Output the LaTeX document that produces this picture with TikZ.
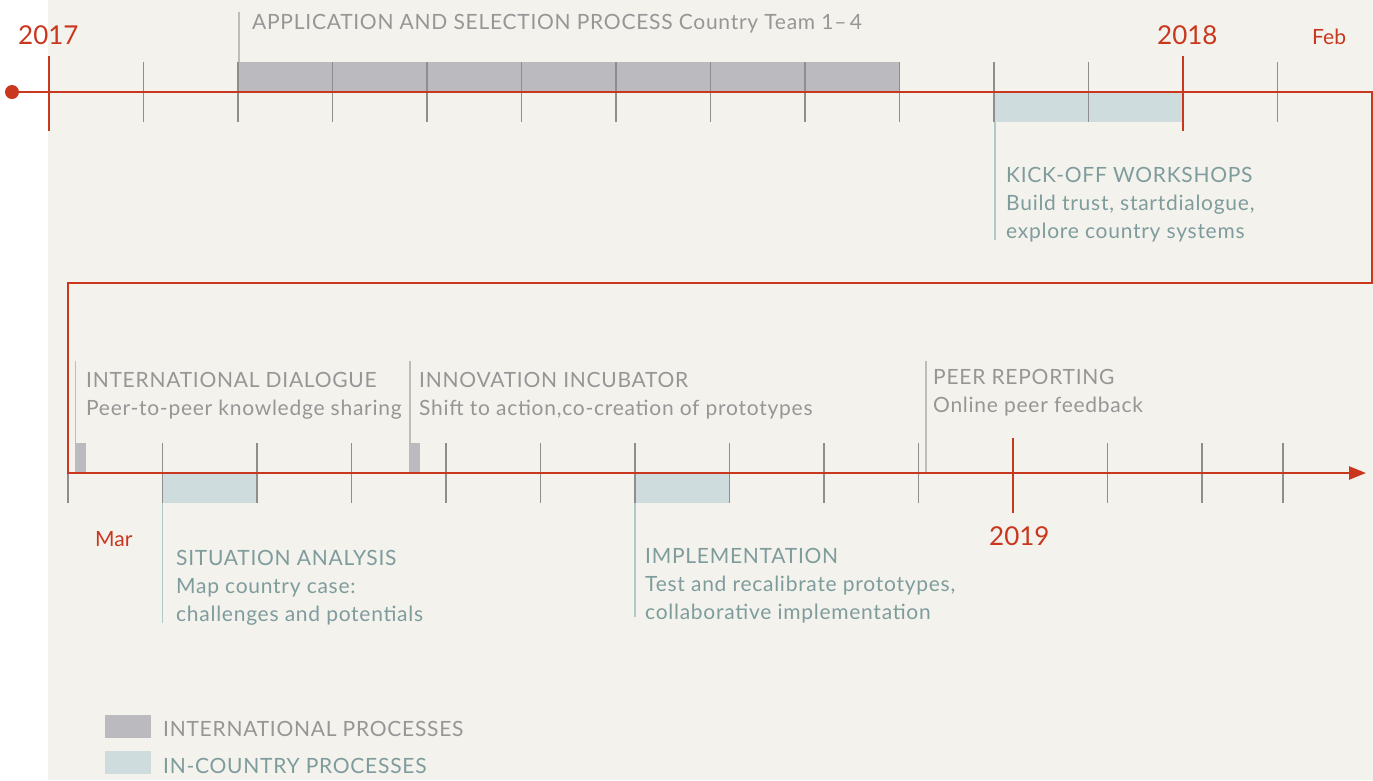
\documentclass[tikz,border=0pt]{standalone}
\usepackage{fontspec}
\setmainfont{Lato}
\newfontfamily\lblfont[LetterSpace=3.5]{Lato}
\usetikzlibrary{arrows.meta}
\definecolor{bg}{HTML}{F3F2ED}
\definecolor{tlred}{HTML}{C9381E}
\definecolor{tickgray}{HTML}{8E8E8E}
\definecolor{intbar}{HTML}{BBBBBF}
\definecolor{ctybar}{HTML}{CEDCDD}
\definecolor{graytext}{HTML}{969696}
\definecolor{tealtext}{HTML}{7F9C9D}
\definecolor{leadgray}{HTML}{BDBDBD}
\definecolor{leadteal}{HTML}{AFC8C9}
\begin{document}
\begin{tikzpicture}[x=1pt,y=-1pt,
  tk/.style={draw=tickgray, line width=1.5pt},
  redtk/.style={draw=tlred, line width=2.8pt},
  redline/.style={draw=tlred, line width=2.5pt, line join=miter},
  leadg/.style={draw=leadgray, line width=1.5pt},
  leadt/.style={draw=leadteal, line width=1.5pt},
  intb/.style={fill=intbar},
  ctyb/.style={fill=ctybar},
  lbl/.style={anchor=base west, inner sep=0pt, align=left, font=\lblfont\fontsize{21}{28}\selectfont},
  glbl/.style={lbl, text=graytext},
  tlbl/.style={lbl, text=tealtext},
  yr/.style={anchor=base west, inner sep=0pt, text=tlred, font=\fontsize{26}{30}\selectfont},
  mon/.style={anchor=base west, inner sep=0pt, text=tlred, font=\fontsize{21}{26}\selectfont}]
\useasboundingbox (0,0) rectangle (1373,780);
\fill[bg] (48,0) rectangle (1373,780);

% bars
\fill[intb] (239,62) rectangle (900,92);
\fill[ctyb] (995,92) rectangle (1183,122);
\fill[intb] (75,443) rectangle (86,473);
\fill[intb] (409,443) rectangle (420,473);
\fill[ctyb] (162,473) rectangle (257,503);
\fill[ctyb] (635,473) rectangle (729,503);

% leader lines
\coordinate (appT) at (239,12);   \coordinate (appB) at (239,62);
\coordinate (kickT) at (995,122); \coordinate (kickB) at (995,240);
\coordinate (intdT) at (75.5,361); \coordinate (intdB) at (75.5,443);
\coordinate (incT) at (410,361);  \coordinate (incB) at (410,443);
\coordinate (peerT) at (926,361); \coordinate (peerB) at (926,473);
\coordinate (sitT) at (162.5,503); \coordinate (sitB) at (162.5,623);
\coordinate (impT) at (635,503);  \coordinate (impB) at (635,617);
\draw[leadg] (appT) -- (appB);
\draw[leadg] (intdT) -- (intdB);
\draw[leadg] (incT) -- (incB);
\draw[leadg] (peerT) -- (peerB);
\draw[leadt] (kickT) -- (kickB);
\draw[leadt] (sitT) -- (sitB);
\draw[leadt] (impT) -- (impB);

% ticks top
\foreach \k in {1,...,11,13} {
  \draw[tk] ({49.2+94.5*\k},62) -- ({49.2+94.5*\k},122);
}
% ticks bottom
\foreach \x in {68,162.5,257,351.5,446,540.5,635,729.5,824,918.5,1107.5,1202,1283} {
  \draw[tk] (\x,443) -- (\x,503);
}

% main red timeline
\coordinate (start) at (12,92);
\coordinate (c1) at (1372,92);
\coordinate (c2) at (1372,283);
\coordinate (c3) at (68,283);
\coordinate (c4) at (68,473);
\coordinate (end) at (1366,473);
\draw[redline, -{Triangle[length=17pt,width=13pt]}] (start) -- (c1) -- (c2) -- (c3) -- (c4) -- (end);
\fill[tlred] (start) circle (7);

% year ticks
\draw[redtk] (49,56) -- (49,131);
\draw[redtk] (1183,56) -- (1183,131);
\draw[redtk] (1013,438) -- (1013,513);

% year / month labels
\node[yr] (y2017) at (18,44) {2017};
\node[yr] (y2018) at (1157,44) {2018};
\node[yr] (y2019) at (989,545) {2019};
\node[mon] (feb) at (1312,44) {Feb};
\node[mon] (mar) at (95,546) {Mar};

% process labels (base anchor = baseline of last line)
\node[glbl] (app) at (252,29) {APPLICATION AND SELECTION PROCESS Country Team 1–\,4};
\node[tlbl] (kick) at (1006,238) {KICK-OFF WORKSHOPS\\Build trust, startdialogue,\\explore country systems};
\node[glbl] (intd) at (86,415) {INTERNATIONAL DIALOGUE\\Peer-to-peer knowledge sharing};
\node[glbl] (inc) at (419,415) {INNOVATION INCUBATOR\\Shift to action,co-creation of prototypes};
\node[glbl] (peer) at (933,412) {PEER REPORTING\\Online peer feedback};
\node[tlbl] (sit) at (176,621) {SITUATION ANALYSIS\\Map country case:\\challenges and potentials};
\node[tlbl] (imp) at (645,619) {IMPLEMENTATION\\Test and recalibrate prototypes,\\collaborative implementation};

% legend
\fill[intb] (105,715) rectangle (151,738);
\fill[ctyb] (105,751) rectangle (151,774);
\node[glbl] (legint) at (163,736) {INTERNATIONAL PROCESSES};
\node[tlbl] (legcty) at (163,773) {IN-COUNTRY PROCESSES};
\end{tikzpicture}
\end{document}
